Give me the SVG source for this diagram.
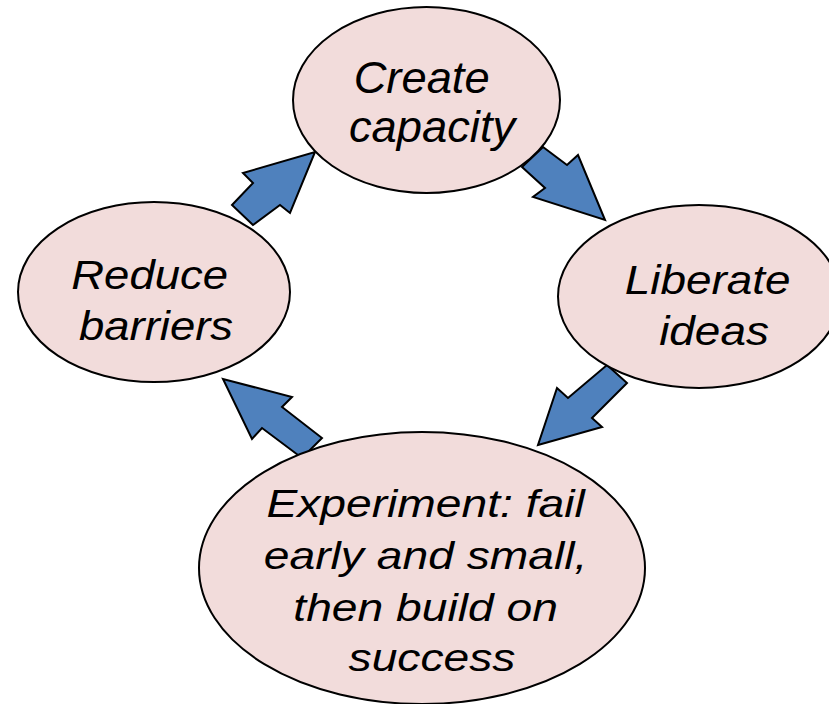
<svg xmlns="http://www.w3.org/2000/svg" width="829" height="704" viewBox="0 0 829 704">
  <style>
    .node ellipse { fill: #F2DCDB; stroke: #000; stroke-width: 2; }
    .node text { font-family: "Liberation Sans", Arial, sans-serif; font-style: italic; fill: #000; text-anchor: middle; }
    .arrow { fill: #4F81BD; stroke: #000; stroke-width: 2; stroke-linejoin: miter; }
  </style>
  <rect width="829" height="704" fill="#fff"/>

  <!-- block arrows running clockwise round the cycle -->
  <g id="connectors">
    <polygon class="arrow" points="543,147 567,165 578,155 605,220 533,197 545,188 522,167"/>
    <polygon class="arrow" points="607,365 627,383 592,418 602,427 538,445 557,388 568,398"/>
    <polygon class="arrow" points="322,438 302,458 262,428 252,439 223,379 292,397 282,407"/>
    <polygon class="arrow" points="253,225 232,205 253,183 243,173 315,152 290,213 280,205"/>
  </g>

  <g id="create-capacity" class="node">
    <ellipse cx="426.5" cy="100" rx="133.5" ry="93"/>
    <text font-size="44" transform="translate(430 0) scale(1.03 1)">
      <tspan x="-2" y="93.5">Create</tspan>
      <tspan x="2" y="142">capacity</tspan>
    </text>
  </g>

  <g id="liberate-ideas" class="node">
    <ellipse cx="699" cy="296.5" rx="141" ry="91.5"/>
    <text font-size="41" transform="translate(714 0) scale(1.12 1)">
      <tspan x="0" y="294">Liberate</tspan>
      <tspan x="0" y="345">ideas</tspan>
    </text>
  </g>

  <g id="experiment" class="node">
    <ellipse cx="422" cy="568" rx="223" ry="136"/>
    <text font-size="39.5" transform="translate(432 0) scale(1.17 1)">
      <tspan x="0" y="517">Experiment: fail</tspan>
      <tspan x="0" y="569">early and small,</tspan>
      <tspan x="0" y="621">then build on</tspan>
      <tspan x="0" y="671">success</tspan>
    </text>
  </g>

  <g id="reduce-barriers" class="node">
    <ellipse cx="154" cy="292" rx="136" ry="90"/>
    <text font-size="41" transform="translate(156 0) scale(1.11 1)">
      <tspan x="0" y="289">Reduce</tspan>
      <tspan x="0" y="340">barriers</tspan>
    </text>
  </g>
</svg>
